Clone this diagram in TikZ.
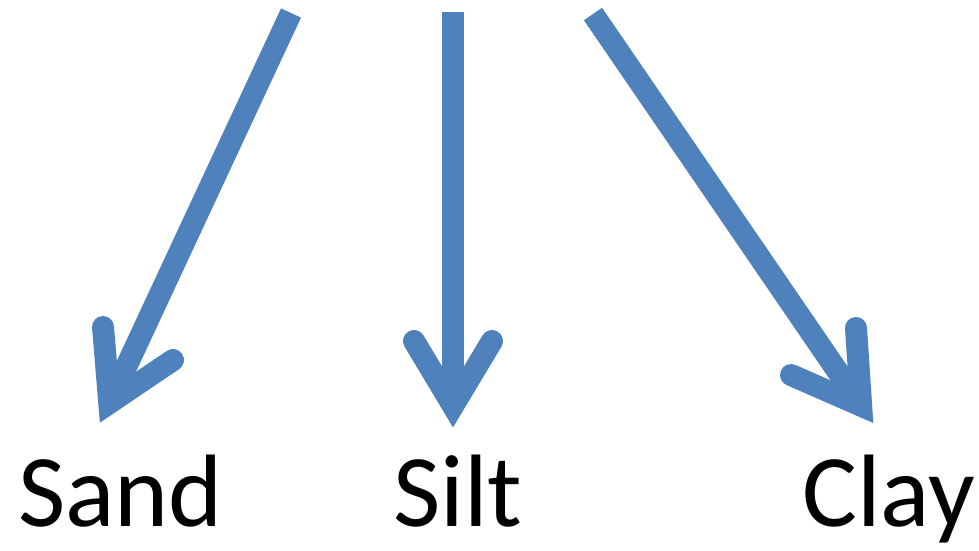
\documentclass[tikz,border=0pt]{standalone}
\usepackage{fontspec}
\setmainfont{Carlito}
\usetikzlibrary{calc}
\definecolor{officeblue}{HTML}{4F81BD}
\tikzset{
  shaft/.style={draw=officeblue, line width=22pt, line cap=butt},
  barb/.style={draw=officeblue, line width=22pt, line cap=round, line join=miter, miter limit=10},
  lbl/.style={anchor=base west, inner sep=0pt, font=\fontsize{103pt}{115pt}\selectfont, text=black}
}
\begin{document}
\begin{tikzpicture}[x=1pt,y=-1pt]
\useasboundingbox (0,0) rectangle (979,550);
% Sand arrow
\coordinate (s1) at (291,13);
\coordinate (t1) at (100,423);
\coordinate (a1l) at (103,327);
\coordinate (a1r) at (173,360);
\coordinate (v1) at ($(t1)!22pt!(s1)$);
\draw[shaft] (s1) -- (v1);
\draw[barb] (a1l) -- (v1) -- (a1r);
% Silt arrow
\coordinate (s2) at (453,12);
\coordinate (t2) at (453,427);
\coordinate (a2l) at (414,341);
\coordinate (a2r) at (492,341);
\coordinate (v2) at ($(t2)!21pt!(s2)$);
\draw[shaft] (s2) -- (v2);
\draw[barb] (a2l) -- (v2) -- (a2r);
% Clay arrow
\coordinate (s3) at (593,14);
\coordinate (t3) at (873,423);
\coordinate (a3l) at (791,375);
\coordinate (a3r) at (856,328);
\coordinate (v3) at ($(t3)!21pt!(s3)$);
\draw[shaft] (s3) -- (v3);
\draw[barb] (a3l) -- (v3) -- (a3r);
% labels
\node[lbl] (sand) at (18,526) {Sand};
\node[lbl] (silt) at (393,526) {Silt};
\node[lbl] (clay) at (802,526) {Clay};
\end{tikzpicture}
\end{document}
